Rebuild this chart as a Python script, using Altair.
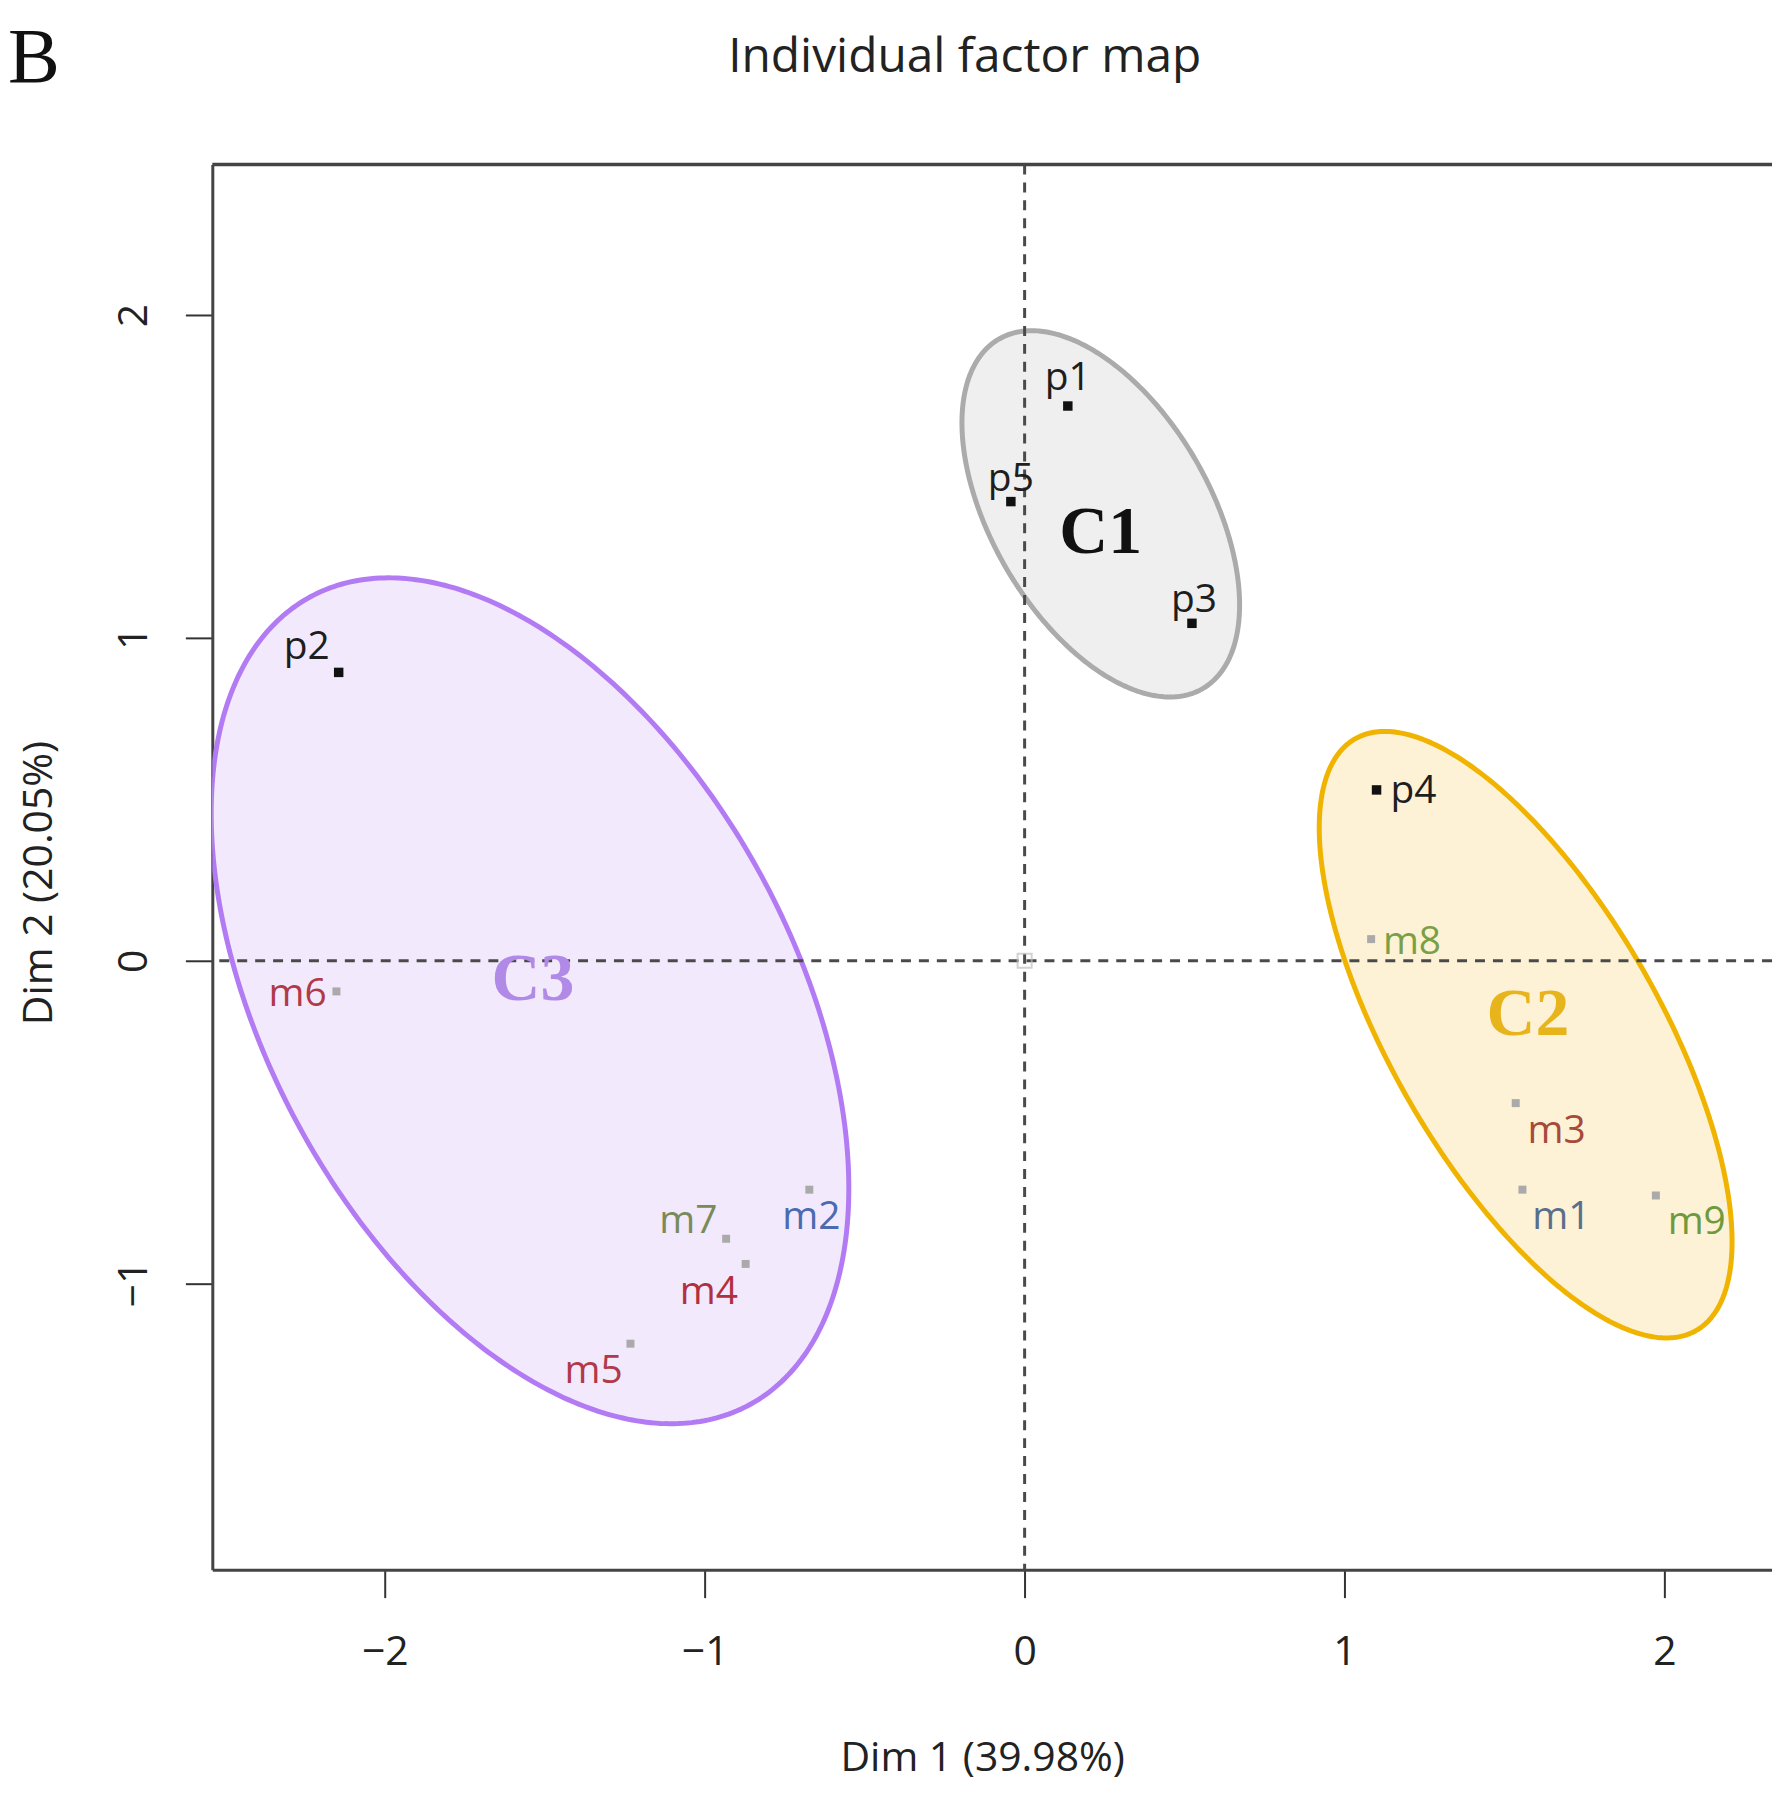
import numpy as np
import pandas as pd
import altair as alt

# ---------------- data ----------------
names = ["p1", "p5", "p3", "p2", "p4", "m8", "m6", "m3", "m1", "m9", "m7", "m2", "m4", "m5"]
dim1 = [0.135, -0.043, 0.523, -2.144, 1.100, 1.083, -2.151, 1.535, 1.556, 1.973, -0.933, -0.673, -0.872, -1.232]
dim2 = [1.718, 1.422, 1.045, 0.893, 0.529, 0.067, -0.095, -0.441, -0.709, -0.727, -0.861, -0.709, -0.939, -1.186]

clusters = ["C1", "C2", "C3"]
cl_cx = [0.238, 1.566, -1.546]
cl_cy = [1.384, -0.229, -0.124]
cl_a = [0.628, 1.060, 1.427]
cl_b = [0.340, 0.418, 0.820]
cl_angle = [-59.3, -59.7, -61.0]
cl_label_x = [0.238, 1.573, -1.537]
cl_label_y = [1.324, -0.169, -0.060]

x_ticks = [-2, -1, 0, 1, 2]
y_ticks = [-1, 0, 1, 2]

title_main = "Individual factor map"
title_x = "Dim 1 (39.98%)"
title_y = "Dim 2 (20.05%)"
panel_letter = "B"

# ---------------- styles ----------------
W, H = 1565, 1410
XMIN, XMAX = -2.539, 2.336
YMIN, YMAX = -1.886, 2.466
PXX = W / (XMAX - XMIN)
PXY = H / (YMAX - YMIN)

label_colors = {
    "p1": "#1e1e1e", "p5": "#1e1e1e", "p3": "#1e1e1e", "p2": "#1e1e1e", "p4": "#1e1e1e",
    "m8": "#7aa046", "m6": "#b03a4a", "m3": "#a84a3a", "m1": "#5a6e8c", "m9": "#6e9a3c",
    "m7": "#7a8a5a", "m2": "#4a6bb0", "m4": "#b03040", "m5": "#b03a4a",
}
# label offsets in pixels (dx right, dy down) of the label baseline centre from the point
label_off = {
    "p1": (0, -16), "p5": (0, -11), "p3": (2, -11), "p2": (-32, -13), "p4": (37, 13),
    "m8": (41, 15), "m6": (-39, 15), "m3": (41, 40), "m1": (39, 39), "m9": (41, 39),
    "m7": (-38, -6), "m2": (2, 39), "m4": (-37, 40), "m5": (-37, 39),
}
cl_fill = {"C1": "#efefef", "C2": "#fdf1d6", "C3": "#f3e9fd"}
cl_stroke = {"C1": "#ababab", "C2": "#f0b400", "C3": "#b37bf3"}
cl_text = {"C1": "#111111", "C2": "#e8b41c", "C3": "#b08ae6"}

SANS = "Open Sans"
SERIF = "Liberation Serif"

# ---------------- tables ----------------
pts = pd.DataFrame({"name": names, "x": dim1, "y": dim2})
pts["sq"] = ["#111111" if n.startswith("p") else "#aaaaaa" for n in names]
pts["lc"] = [label_colors[n] for n in names]
pts["lx"] = [x + label_off[n][0] / PXX for n, x in zip(names, dim1)]
pts["ly"] = [y - label_off[n][1] / PXY for n, y in zip(names, dim2)]
pts["sz"] = [90 if n.startswith("p") else 64 for n in names]

area_rows, line_rows = [], []
for c, cx, cy, a, b, ang in zip(clusters, cl_cx, cl_cy, cl_a, cl_b, cl_angle):
    th = np.deg2rad(ang)
    co, si = np.cos(th), np.sin(th)
    ext = np.sqrt(a**2 * co**2 + b**2 * si**2)
    xs = np.linspace(cx - ext, cx + ext, 500)
    dx = xs - cx
    A = si**2 / a**2 + co**2 / b**2
    B = 2 * dx * co * si * (1 / a**2 - 1 / b**2)
    C = dx**2 * (co**2 / a**2 + si**2 / b**2) - 1
    disc = np.clip(B**2 - 4 * A * C, 0, None)
    y_up = cy + (-B + np.sqrt(disc)) / (2 * A)
    y_lo = cy + (-B - np.sqrt(disc)) / (2 * A)
    for xv, yu, yl in zip(xs, y_up, y_lo):
        area_rows.append({"cluster": c, "x": xv, "y": yu, "y2": yl})
    t = np.linspace(0, 2 * np.pi, 400)
    ex = cx + a * np.cos(t) * co - b * np.sin(t) * si
    ey = cy + a * np.cos(t) * si + b * np.sin(t) * co
    for i, (xv, yv) in enumerate(zip(ex, ey)):
        line_rows.append({"cluster": c, "x": xv, "y": yv, "o": i})
area_df = pd.DataFrame(area_rows)
line_df = pd.DataFrame(line_rows)
cl_df = pd.DataFrame({"cluster": clusters, "x": cl_label_x, "y": cl_label_y})
cl_df["tc"] = [cl_text[c] for c in clusters]

# ---------------- scales / axes ----------------
xscale = alt.Scale(domain=[XMIN, XMAX], nice=False, zero=False)
yscale = alt.Scale(domain=[YMIN, YMAX], nice=False, zero=False)
xaxis = alt.Axis(values=x_ticks, format="d", title=None, grid=False, tickSize=28, tickWidth=2,
                 tickColor="#333333", domainWidth=3, domainColor="#444444", labelFont=SANS,
                 labelFontSize=41, labelColor="#222222", labelPadding=35, labelFlush=False,
                 labelOverlap=False)
yaxis = alt.Axis(values=y_ticks, format="d", title=None, grid=False, tickSize=27, tickWidth=2,
                 tickColor="#333333", domainWidth=3, domainColor="#444444", labelFont=SANS,
                 labelFontSize=41, labelColor="#222222", labelAngle=270, labelAlign="center",
                 labelBaseline="bottom", labelPadding=30, labelFlush=False, labelOverlap=False)


def X(f):
    return alt.X(f, type="quantitative", scale=xscale, axis=xaxis)


def Y(f):
    return alt.Y(f, type="quantitative", scale=yscale, axis=yaxis)


layers = []
for c in clusters:
    layers.append(
        alt.Chart(area_df[area_df.cluster == c]).mark_area(color=cl_fill[c], opacity=1, clip=True)
        .encode(x=X("x"), y=Y("y"), y2="y2")
    )
for c in clusters:
    layers.append(
        alt.Chart(line_df[line_df.cluster == c]).mark_line(color=cl_stroke[c], strokeWidth=5, clip=True)
        .encode(x=X("x"), y=Y("y"), order="o:Q")
    )

zero_df = pd.DataFrame({"z": [0.0]})
layers.append(alt.Chart(zero_df).mark_rule(color="#4a4a4a", strokeWidth=3, strokeDash=[10, 8])
              .encode(x=X("z")))
layers.append(alt.Chart(zero_df).mark_rule(color="#4a4a4a", strokeWidth=3, strokeDash=[10, 8])
              .encode(y=Y("z")))
layers.append(alt.Chart(pd.DataFrame({"x": [0.0], "y": [0.0]}))
              .mark_point(shape="square", filled=False, size=200, color="#c0c0c0", strokeWidth=2)
              .encode(x=X("x"), y=Y("y")))

layers.append(alt.Chart(pts).mark_point(shape="square", filled=True, opacity=1)
              .encode(x=X("x"), y=Y("y"), color=alt.Color("sq:N", scale=None),
                      size=alt.Size("sz:Q", scale=None)))
layers.append(alt.Chart(pts).mark_text(font=SANS, fontSize=39, align="center", baseline="alphabetic")
              .encode(x=X("lx"), y=Y("ly"), text="name:N", color=alt.Color("lc:N", scale=None)))
layers.append(alt.Chart(cl_df).mark_text(font=SERIF, fontSize=68, fontWeight="bold", align="center",
                                         baseline="middle")
              .encode(x=X("x"), y=Y("y"), text="cluster:N", color=alt.Color("tc:N", scale=None)))

# top frame line
layers.append(alt.Chart(pd.DataFrame({"k": [1]})).mark_rule(color="#444444", strokeWidth=3.5)
              .encode(x=alt.value(0), x2=alt.value(W + 2), y=alt.value(0)))


# titles
def txt(s, px, py, size, font=SANS, angle=0, align="center", weight="normal", color="#222222"):
    kw = dict(font=font, fontSize=size, align=align, baseline="alphabetic", color=color,
              fontWeight=weight)
    if angle:
        kw["angle"] = angle
    return (alt.Chart(pd.DataFrame({"t": [s]})).mark_text(**kw)
            .encode(x=alt.value(px), y=alt.value(py), text="t:N"))


layers.append(txt(title_main, 755, -93, 48))
layers.append(txt(title_x, 773, 1612, 41))
layers.append(txt(title_y, -161, 721, 41, angle=270))
layers.append(txt(panel_letter, -205, -83, 78, font=SERIF, align="left", color="#111111"))

chart = (
    alt.layer(*layers)
    .properties(width=W, height=H, autosize=alt.AutoSizeParams(type="none"),
                padding={"left": 205, "top": 154, "right": 0, "bottom": 213},
                background="white")
    .configure_view(stroke=None)
)

chart.save("out.html", embed_options={"renderer": "svg", "actions": False})
